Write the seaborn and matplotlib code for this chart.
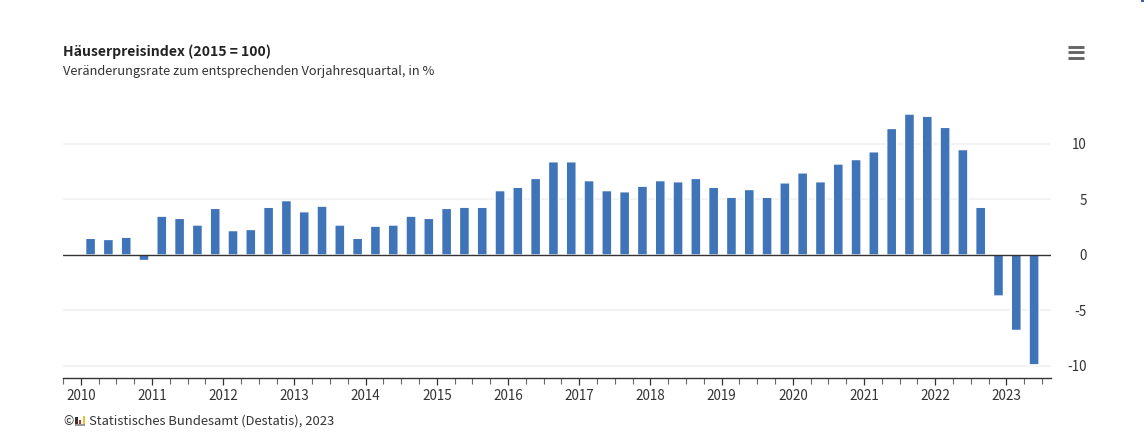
import numpy as np
import pandas as pd
import matplotlib
matplotlib.use('Agg')
import matplotlib.pyplot as plt
from matplotlib.lines import Line2D
from matplotlib.patches import Rectangle
import seaborn as sns

# Quarterly change of the house price index, Q1 2010 to Q2 2023
years = list(range(2010, 2024))
values = [1.5, 1.4, 1.6, -0.5, 3.5, 3.3, 2.7, 4.2, 2.2, 2.3, 4.3, 4.9, 3.9, 4.4, 2.7, 1.5,
          2.6, 2.7, 3.5, 3.3, 4.2, 4.3, 4.3, 5.8, 6.1, 6.9, 8.4, 8.4, 6.7, 5.8, 5.7, 6.2,
          6.7, 6.6, 6.9, 6.1, 5.2, 5.9, 5.2, 6.5, 7.4, 6.6, 8.2, 8.6, 9.3, 11.4, 12.7, 12.5,
          11.5, 9.5, 4.3, -3.7, -6.8, -9.9]
y_ticks = [-10, -5, 0, 5, 10]
y_labels = ['-10', '-5', '0', '5', '10']

quarters = [f'{y} Q{q}' for y in years for q in range(1, 5)][:len(values)]
df = pd.DataFrame({'quarter': quarters, 'change': values})

W, H = 1145, 436
sns.set_style('white')
# the latin glyphs of this family are close to the original web font
plt.rcParams['font.family'] = ['Noto Sans CJK SC', 'DejaVu Sans']
text_color = '#333333'

fig = plt.figure(figsize=(W / 100, H / 100), dpi=100)
ax = fig.add_axes([63 / W, 1 - 377.5 / H, (1051 - 63) / W, (377.5 - 99.6) / H])

sns.barplot(data=df, x='quarter', y='change', color='#3f74b9', saturation=1, width=0.56, ax=ax, zorder=3)
for bar in ax.patches:
    bar.set_snap(False)

# 17.8 px per quarter, first bar centred at 90.5 px
ax.set_xlim(-1.55, 53.95)
ax.set_ylim(-11.04, 14)
ax.set_xlabel('')
ax.set_ylabel('')

for s in ['top', 'left', 'right']:
    ax.spines[s].set_visible(False)
ax.spines['bottom'].set_color('#333333')
ax.spines['bottom'].set_linewidth(1)

# year ticks sit between the bars
year_pos = [i * 4 - 0.55 for i in range(len(years))]
quarter_pos = [i - 1.55 for i in range(56)]
ax.set_xticks(year_pos)
ax.set_xticklabels(years)
ax.set_xticks(quarter_pos, minor=True)
ax.tick_params(axis='x', which='major', length=5, width=0.9, color='#333333', pad=3,
               labelsize=9.7, labelcolor=text_color, bottom=True)
ax.tick_params(axis='x', which='minor', length=4, width=0.8, color='#666666', bottom=True)

ax.yaxis.tick_right()
ax.set_yticks(y_ticks)
ax.set_yticklabels(y_labels, ha='right', va='center_baseline')
ax.tick_params(axis='y', length=0, pad=26, labelsize=9.7, labelcolor=text_color)

for v in y_ticks:
    if v != 0:
        ax.axhline(v, color='#f3f3f3', lw=1.5, zorder=1)
ax.axhline(0, color='#333333', lw=1, zorder=4)


def px(x, y):
    return x / W, 1 - y / H


fig.text(*px(63, 51.5), 'Häuserpreisindex (2015 = 100)', fontsize=10.1, fontweight='bold',
         color='#222222', va='center')
fig.text(*px(63, 71), 'Veränderungsrate zum entsprechenden Vorjahresquartal, in %', fontsize=9.26,
         color=text_color, va='center')
fig.text(*px(63, 422), '©', fontsize=9, color=text_color, va='center')
fig.text(*px(89, 421.5), 'Statistisches Bundesamt (Destatis), 2023', fontsize=9.36,
         color=text_color, va='center')

# menu button
for y in [46.8, 52.3, 57.8]:
    x0, y0 = px(1068, y)
    x1, y1 = px(1084, y)
    fig.add_artist(Line2D([x0, x1], [y0, y1], transform=fig.transFigure, color='#666666',
                          lw=2.1, solid_capstyle='butt'))

# small Destatis logo
for x, top, w, c in [(75, 417, 2.6, '#333333'), (79, 420, 2.4, '#b5302a'), (82.5, 416, 2.6, '#e6c42e')]:
    fig.add_artist(Rectangle(px(x, 423.5), w / W, (423.5 - top) / H, transform=fig.transFigure, color=c, lw=0))
fig.add_artist(Rectangle(px(75, 425.5), 10 / W, 1.3 / H, transform=fig.transFigure, color='#999999', lw=0))

# stray mark at the top edge of the screenshot
fig.add_artist(Rectangle(px(1141, 2), 3 / W, 2 / H, transform=fig.transFigure, color='#3f5fb0', lw=0))

fig.savefig('out.png', dpi=100)
